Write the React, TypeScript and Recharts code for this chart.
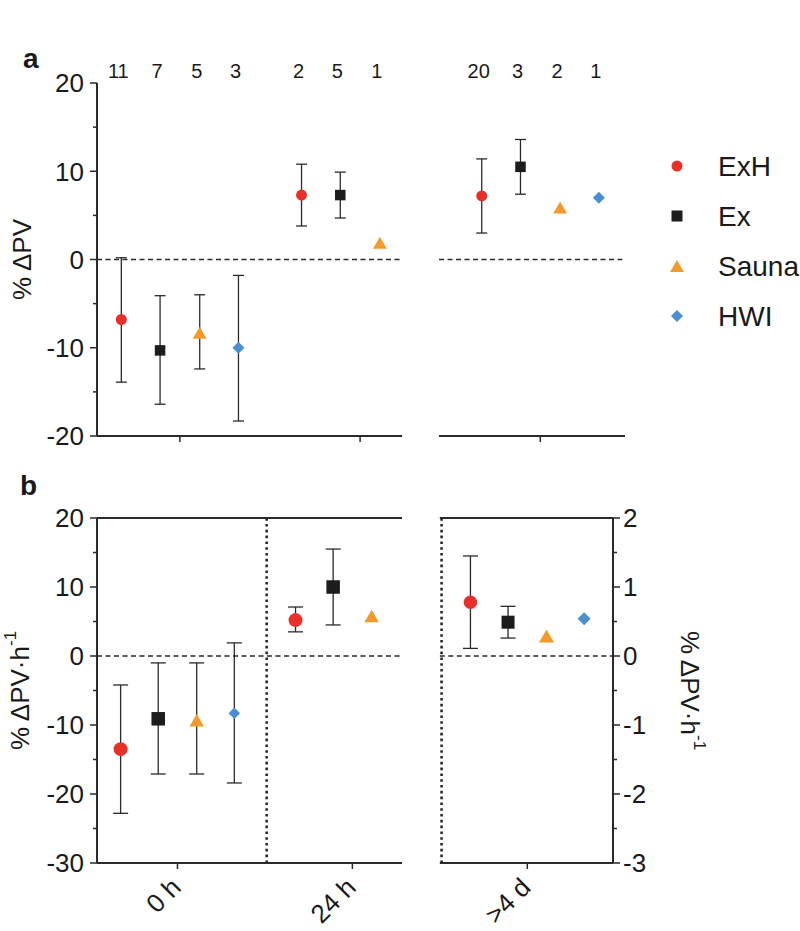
import React from 'react';
import { ComposedChart, Scatter, XAxis, YAxis, ErrorBar, ReferenceLine } from 'recharts';

// one entry per group: [mean, low, high], [mean] when no error bar, null when missing
type Pt = number[] | null;

const groups = ['0 h', '24 h', '>4 d'];
const methods = ['ExH', 'Ex', 'Sauna', 'HWI'];
const colors = ['#e8302b', '#1c1c1c', '#f39a2c', '#4b8fd3'];
const shapes = ['circle', 'square', 'triangle', 'diamond'];

// a: % ΔPV
const aExH: Pt[] = [[-6.8, -13.9, 0.2], [7.3, 3.8, 10.8], [7.2, 3.0, 11.4]];
const aEx: Pt[] = [[-10.3, -16.4, -4.1], [7.3, 4.7, 9.9], [10.5, 7.4, 13.6]];
const aSauna: Pt[] = [[-8.3, -12.4, -4.0], [1.9], [5.9]];
const aHWI: Pt[] = [[-10.0, -18.3, -1.8], null, [7.0]];

// number of studies, printed above panel a
const nExH = [11, 2, 20];
const nEx = [7, 5, 3];
const nSauna = [5, 1, 2];
const nHWI = [3, null, 1];

// b: % ΔPV·h-1 (0 h and 24 h on the left axis, >4 d on the right axis)
const bExH: Pt[] = [[-13.5, -22.8, -4.2], [5.2, 3.5, 7.1], [0.78, 0.11, 1.45]];
const bEx: Pt[] = [[-9.1, -17.1, -1.0], [10.0, 4.5, 15.5], [0.49, 0.26, 0.72]];
const bSauna: Pt[] = [[-9.3, -17.1, -1.0], [5.8], [0.29]];
const bHWI: Pt[] = [[-8.3, -18.4, 1.9], null, [0.54]];

const aTicks = [-20, -15, -10, -5, 0, 5, 10, 15, 20];
const bTicks = [-30, -25, -20, -15, -10, -5, 0, 5, 10, 15, 20];
const bRightTicks = [-3, -2.5, -2, -1.5, -1, -0.5, 0, 0.5, 1, 1.5, 2];

const aSeries = [aExH, aEx, aSauna, aHWI];
const bSeries = [bExH, bEx, bSauna, bHWI];
const nSeries = [nExH, nEx, nSauna, nHWI];

const DODGE = [-0.325, -0.11, 0.11, 0.325];
const INK = '#2a2a2a';
const TXT = '#1a1a1a';
const FONT = '"Liberation Sans", Arial, Helvetica, sans-serif';
const A_DOM: [number, number] = [-0.46, 2.47];
const B_DOM: [number, number] = [-0.46, 2.49];

function toPoints(vals: Pt[], mi: number, keep: number[]) {
  const out: any[] = [];
  vals.forEach((v, gi) => {
    if (!v || !keep.includes(gi)) return;
    out.push({
      x: gi + DODGE[mi],
      y: v[0],
      e: v.length === 3 ? [v[0] - v[1], v[2] - v[0]] : null,
    });
  });
  return out;
}

function Marker({ kind, cx, cy, s, fill }: any) {
  const h = s / 2;
  if (kind === 'circle') return <circle cx={cx} cy={cy} r={h} fill={fill} />;
  if (kind === 'square') return <rect x={cx - h} y={cy - h} width={s} height={s} fill={fill} />;
  if (kind === 'triangle') {
    const w = s * 0.58;
    return <polygon points={`${cx},${cy - h} ${cx + w},${cy + h} ${cx - w},${cy + h}`} fill={fill} />;
  }
  return <polygon points={`${cx},${cy - h} ${cx + h},${cy} ${cx},${cy + h} ${cx - h},${cy}`} fill={fill} />;
}

const yTick = (side: 'left' | 'right', step: number) => (p: any) => {
  const { x, y, payload } = p;
  const v = payload.value;
  const major = Math.abs(v / step - Math.round(v / step)) < 1e-6;
  const d = side === 'left' ? -1 : 1;
  return (
    <g>
      <line x1={x} x2={x + d * (major ? 7 : 4)} y1={y} y2={y} stroke={INK} strokeWidth={1.5} />
      {major && (
        <text x={x + d * (side === 'left' ? 13 : 10)} y={y} dy="0.36em" textAnchor={side === 'left' ? 'end' : 'start'} fontSize={26} fill={TXT}>
          {v}
        </text>
      )}
    </g>
  );
};

const xTick = (withLabel: boolean) => (p: any) => {
  const { x, y, payload } = p;
  return (
    <g>
      <line x1={x} x2={x} y1={y} y2={y + 6} stroke={INK} strokeWidth={1.5} />
      {withLabel && (
        <text transform={`translate(${x + 5},${y + 26}) rotate(-45)`} textAnchor="end" fontSize={26} fill={TXT}>
          {groups[Math.round(payload.value)]}
        </text>
      )}
    </g>
  );
};

const yTitle = (offset: number, rot: number, perHour: boolean) => (p: any) => {
  const vb = p.viewBox;
  const cx = vb.x + offset;
  const cy = vb.y + vb.height / 2;
  return (
    <text transform={`translate(${cx},${cy}) rotate(${rot})`} textAnchor="middle" fontSize={26} fill={TXT}>
      <tspan dy="0.35em">% ΔPV{perHour ? '\u00B7h' : ''}</tspan>
      {perHour && (
        <tspan dy="-0.75em" fontSize={17}>
          -1
        </tspan>
      )}
    </text>
  );
};

const nTicks: number[] = [];
const nText: Record<string, number> = {};
nSeries.forEach((arr, mi) =>
  arr.forEach((n, gi) => {
    if (n == null) return;
    const x = gi + DODGE[mi];
    nTicks.push(x);
    nText[x.toFixed(3)] = n;
  }),
);
nTicks.sort((a, b) => a - b);

const NTick = (p: any) => (
  <text x={p.x - 3} y={p.y - 5} textAnchor="middle" fontSize={20} fill={TXT}>
    {nText[Number(p.payload.value).toFixed(3)]}
  </text>
);

const axisStroke = { stroke: INK, strokeWidth: 2 };

function PanelA() {
  return (
    <ComposedChart width={800} height={465} margin={{ top: 53, right: 175, bottom: 0, left: 0 }}>
      <XAxis xAxisId="b" type="number" dataKey="x" domain={A_DOM} ticks={[0, 1, 2]} interval={0} allowDataOverflow
        axisLine={false} tickLine={false} tickSize={0} tickMargin={0} height={29} tick={xTick(false)} />
      <XAxis xAxisId="n" orientation="top" type="number" dataKey="x" domain={A_DOM} ticks={nTicks} interval={0} allowDataOverflow
        axisLine={false} tickLine={false} tickSize={0} tickMargin={0} height={30} tick={NTick} />
      <YAxis type="number" dataKey="y" domain={[-20, 20]} ticks={aTicks} interval={0} width={97}
        axisLine={axisStroke} tickLine={false} tickSize={0} tickMargin={0} tick={yTick('left', 10)}
        label={yTitle(22, -90, false)} />
      <ReferenceLine xAxisId="b" segment={[{ x: -0.46, y: -20 }, { x: 1.233, y: -20 }]} {...axisStroke} ifOverflow="visible" />
      <ReferenceLine xAxisId="b" segment={[{ x: 1.438, y: -20 }, { x: 2.47, y: -20 }]} {...axisStroke} ifOverflow="visible" />
      <ReferenceLine xAxisId="b" segment={[{ x: -0.46, y: 0 }, { x: 1.233, y: 0 }]} stroke={INK} strokeWidth={1.5} strokeDasharray="5 3.5" ifOverflow="visible" />
      <ReferenceLine xAxisId="b" segment={[{ x: 1.438, y: 0 }, { x: 2.455, y: 0 }]} stroke={INK} strokeWidth={1.5} strokeDasharray="5 3.5" ifOverflow="visible" />
      {methods.map((m, mi) => (
        <Scatter key={m} name={m} xAxisId="b" data={toPoints(aSeries[mi], mi, [0, 1, 2])} dataKey="y" isAnimationActive={false}
          shape={(p: any) => <Marker kind={shapes[mi]} cx={p.cx} cy={p.cy} s={[11, 10.5, 12, 12][mi]} fill={colors[mi]} />}>
          <ErrorBar dataKey="e" direction="y" width={5.5} stroke={INK} strokeWidth={1.3} />
        </Scatter>
      ))}
    </ComposedChart>
  );
}

function PanelB() {
  const dash = { stroke: INK, strokeWidth: 1.5, strokeDasharray: '5 3.5' };
  return (
    <ComposedChart width={800} height={490} margin={{ top: 53, right: 87, bottom: 0, left: 0 }}>
      <XAxis type="number" dataKey="x" domain={B_DOM} ticks={[0, 1, 2]} interval={0} allowDataOverflow
        axisLine={false} tickLine={false} tickSize={0} tickMargin={0} height={92} tick={xTick(true)} />
      <YAxis yAxisId="left" type="number" dataKey="y" domain={[-30, 20]} ticks={bTicks} interval={0} width={97}
        axisLine={axisStroke} tickLine={false} tickSize={0} tickMargin={0} tick={yTick('left', 10)}
        label={yTitle(20, -90, true)} />
      <YAxis yAxisId="right" orientation="right" type="number" dataKey="y" domain={[-3, 2]} ticks={bRightTicks} interval={0} width={100}
        axisLine={axisStroke} tickLine={false} tickSize={0} tickMargin={0} tick={yTick('right', 1)}
        label={yTitle(77, 90, true)} />
      <ReferenceLine yAxisId="left" segment={[{ x: -0.46, y: 20 }, { x: 1.284, y: 20 }]} {...axisStroke} ifOverflow="visible" />
      <ReferenceLine yAxisId="left" segment={[{ x: 1.5, y: 20 }, { x: 2.49, y: 20 }]} {...axisStroke} ifOverflow="visible" />
      <ReferenceLine yAxisId="left" segment={[{ x: -0.46, y: -30 }, { x: 1.284, y: -30 }]} {...axisStroke} ifOverflow="visible" />
      <ReferenceLine yAxisId="left" segment={[{ x: 1.5, y: -30 }, { x: 2.49, y: -30 }]} {...axisStroke} ifOverflow="visible" />
      <ReferenceLine yAxisId="left" segment={[{ x: -0.46, y: 0 }, { x: 1.284, y: 0 }]} {...dash} ifOverflow="visible" />
      <ReferenceLine yAxisId="left" segment={[{ x: 1.5, y: 0 }, { x: 2.49, y: 0 }]} {...dash} ifOverflow="visible" />
      <ReferenceLine yAxisId="left" x={0.51} stroke={INK} strokeWidth={2.6} strokeDasharray="2.6 3.2" />
      <ReferenceLine yAxisId="left" x={1.51} stroke={INK} strokeWidth={2.6} strokeDasharray="2.6 3.2" />
      {methods.map((m, mi) => (
        <Scatter key={m} name={m} yAxisId="left" data={toPoints(bSeries[mi], mi, [0, 1])} dataKey="y" isAnimationActive={false}
          shape={(p: any) => <Marker kind={shapes[mi]} cx={p.cx} cy={p.cy} s={[14, 13.5, 12.5, 11.5][mi]} fill={colors[mi]} />}>
          <ErrorBar dataKey="e" direction="y" width={7.5} stroke={INK} strokeWidth={1.3} />
        </Scatter>
      ))}
      {methods.map((m, mi) => (
        <Scatter key={m + '-d'} name={m} yAxisId="right" data={toPoints(bSeries[mi], mi, [2])} dataKey="y" isAnimationActive={false}
          shape={(p: any) => <Marker kind={shapes[mi]} cx={p.cx} cy={p.cy} s={[13.5, 13, 13, 13][mi]} fill={colors[mi]} />}>
          <ErrorBar dataKey="e" direction="y" width={7.5} stroke={INK} strokeWidth={1.3} />
        </Scatter>
      ))}
    </ComposedChart>
  );
}

function Overlay() {
  return (
    <svg width={800} height={931} style={{ position: 'absolute', left: 0, top: 0, pointerEvents: 'none' }}>
      <text x={23} y={68} fontSize={28} fontWeight="bold" fill={TXT}>a</text>
      <text x={20} y={495} fontSize={28} fontWeight="bold" fill={TXT}>b</text>
      {methods.map((m, mi) => (
        <g key={m}>
          <Marker kind={shapes[mi]} cx={677} cy={166 + mi * 50} s={[11, 11, 12, 12][mi]} fill={colors[mi]} />
          <text x={718} y={166 + mi * 50} dy="0.36em" fontSize={28} fill={TXT}>{m}</text>
        </g>
      ))}
    </svg>
  );
}

export default function App() {
  return (
    <div style={{ position: 'absolute', left: 0, top: 0, width: 800, height: 931, fontFamily: FONT, background: '#fff', overflow: 'hidden' }}>
      <div style={{ position: 'absolute', left: 0, top: 0 }}>
        <PanelA />
      </div>
      <div style={{ position: 'absolute', left: 0, top: 465 }}>
        <PanelB />
      </div>
      <Overlay />
    </div>
  );
}
